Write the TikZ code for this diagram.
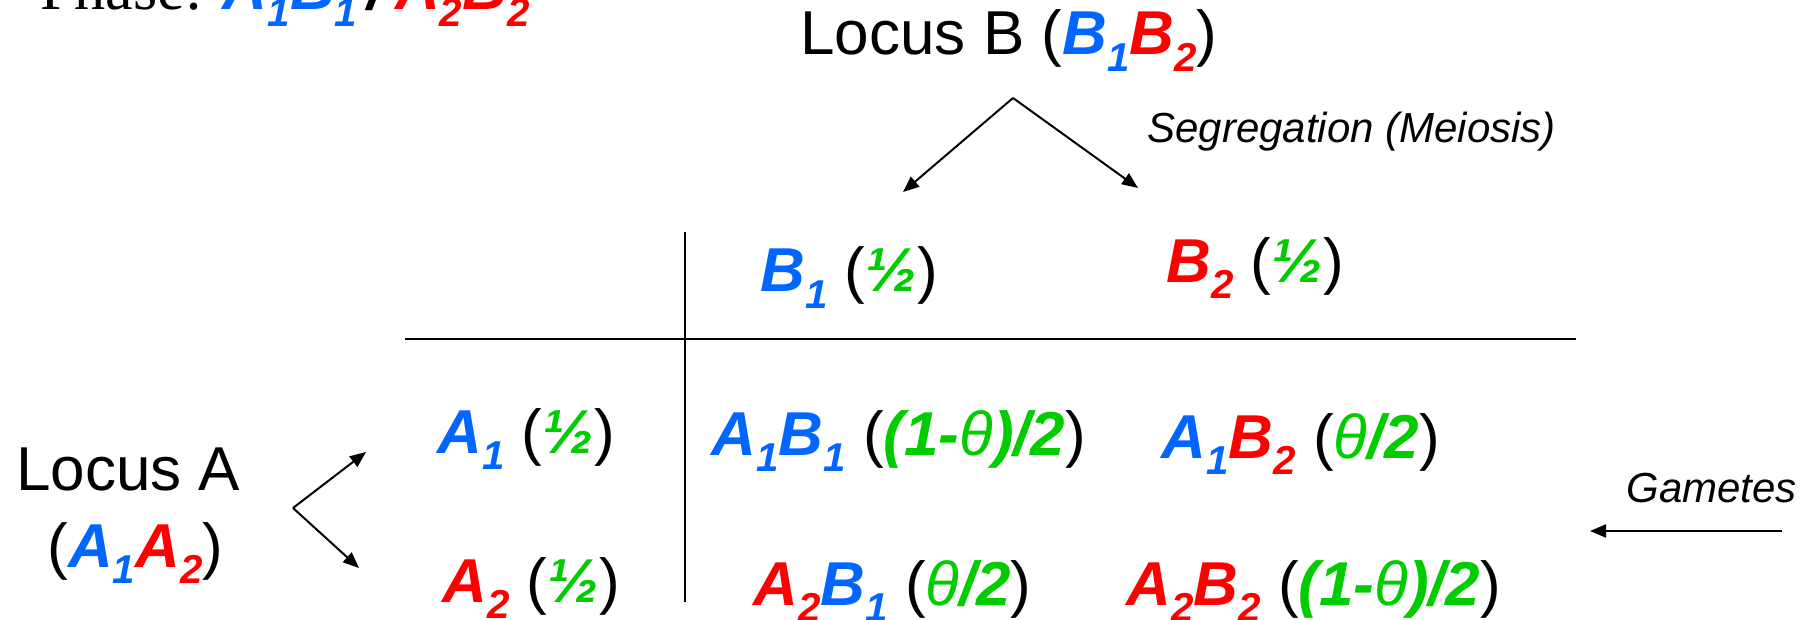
\documentclass[tikz,border=0pt]{standalone}
\usepackage{fontspec}
\setmainfont{Liberation Sans}
\newfontfamily\phasefont{Liberation Serif}
\usepackage{xcolor}
\usetikzlibrary{arrows.meta}

\definecolor{alleleblue}{RGB}{0,102,255}
\definecolor{allelered}{RGB}{255,0,0}
\definecolor{freqgreen}{RGB}{0,204,0}

% lowered index, allele, frequency
\newcommand{\lo}[1]{\raisebox{-0.26em}{\scalebox{0.65}{#1}}}
\newcommand{\al}[3]{{\color{#1}\bfseries\itshape #2\lo{#3}}}
\newcommand{\fq}[1]{{\color{freqgreen}\bfseries\itshape #1}}
\newcommand{\thet}{{\mdseries θ}}

\begin{document}
\begin{tikzpicture}[
    x=0.5pt, y=-0.5pt,
    big/.style={inner sep=0pt, anchor=base west, font=\fontsize{31}{37}\selectfont},
    note/.style={inner sep=0pt, anchor=base west, font=\fontsize{21}{25}\selectfont\itshape},
    rule/.style={line width=1.4pt},
    split/.style={line width=1pt, -{Triangle[length=8pt, width=6.5pt]}}
]
    \useasboundingbox (0,0) rectangle (1814,620);

    % ===============================
    % 1. LOCI
    % ===============================
    \node[big] (phase) at (40, 10) {{\phasefont Phase: }\al{alleleblue}{A}{1}\al{alleleblue}{B}{1}\,{\bfseries\itshape /}\,\al{allelered}{A}{2}\al{allelered}{B}{2}};
    \node[big] (locusB) at (800, 55) {Locus B (\al{alleleblue}{B}{1}\al{allelered}{B}{2})};
    \node[big] (locusA) at (16, 490) {Locus A};
    \node[big] (locusAgen) at (47, 567) {(\al{alleleblue}{A}{1}\al{allelered}{A}{2})};

    \node[note] (seg) at (1147, 143) {Segregation (Meiosis)};
    \node[note] (gam) at (1626, 502) {Gametes};

    % ===============================
    % 2. SEGREGATION ARROWS
    % ===============================
    \coordinate (splitB) at (1013, 98);
    \coordinate (tipB1) at (903, 192);
    \coordinate (tipB2) at (1138, 188);
    \draw[split] (splitB) -- (tipB1);
    \draw[split] (splitB) -- (tipB2);

    \coordinate (splitA) at (293, 508);
    \coordinate (tipA1) at (366, 452);
    \coordinate (tipA2) at (359, 568);
    \draw[split] (splitA) -- (tipA1);
    \draw[split] (splitA) -- (tipA2);

    \coordinate (gamtail) at (1782, 531);
    \coordinate (gamtip) at (1590, 531);
    \draw[split] (gamtail) -- (gamtip);

    % ===============================
    % 3. TABLE
    % ===============================
    \coordinate (hl) at (405, 339);
    \coordinate (hr) at (1576, 339);
    \coordinate (vt) at (685, 232);
    \coordinate (vb) at (685, 602);
    \draw[rule] (hl) -- (hr);
    \draw[rule] (vt) -- (vb);

    % header: B gametes
    \node[big] (hdrB1) at (760, 292) {\al{alleleblue}{B}{1} (\fq{½})};
    \node[big] (hdrB2) at (1166, 282) {\al{allelered}{B}{2} (\fq{½})};

    % rows: A gametes
    \node[big] (rowA1) at (437, 453) {\al{alleleblue}{A}{1} (\fq{½})};
    \node[big] (rowA2) at (442, 602) {\al{allelered}{A}{2} (\fq{½})};

    % cells
    \node[big] (cell11) at (711, 455) {\al{alleleblue}{A}{1}\al{alleleblue}{B}{1} (\fq{(1-\thet)/2})};
    \node[big] (cell12) at (1161, 458) {\al{alleleblue}{A}{1}\al{allelered}{B}{2} (\fq{\thet/2})};
    \node[big] (cell21) at (753, 605) {\al{allelered}{A}{2}\al{alleleblue}{B}{1} (\fq{\thet/2})};
    \node[big] (cell22) at (1126, 605) {\al{allelered}{A}{2}\al{allelered}{B}{2} (\fq{(1-\thet)/2})};

\end{tikzpicture}
\end{document}
